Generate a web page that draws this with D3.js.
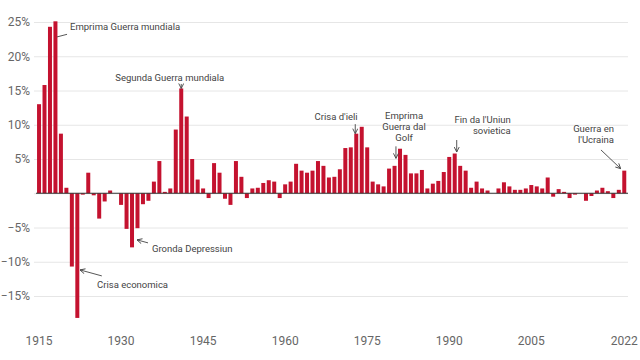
<!DOCTYPE html>
<html>
<head>
<meta charset="utf-8">
<script src="https://cdn.jsdelivr.net/npm/d3@7"></script>
<style>
  html, body { margin: 0; padding: 0; background: #fff; }
  #app { width: 640px; height: 360px; }
  .axis text { font-family: Roboto, "Noto Sans", sans-serif; font-size: 12px; fill: #666; }
  .note { font-family: Roboto, "Noto Sans", sans-serif; font-size: 9.5px; fill: #444; }
</style>
</head>
<body>
<div id="app"></div>
<script>
// annual inflation, 1915 - 2022 (%)
const firstYear = 1915;
const lastYear = 2022;
const inflation = [
  13.0, 15.8, 24.3, 25.1, 8.7,                           // 1915-1919
  0.8, -10.7, -18.2, -0.2, 3.0, -0.3, -3.7, -1.2, 0.4, 0.0, // 1920s
  -1.7, -5.2, -7.9, -5.1, -1.6, -1.1, 1.7, 4.7, 0.2, 0.7,  // 1930s
  9.3, 15.3, 11.2, 5.0, 2.0, 0.7, -0.7, 4.4, 3.0, -0.8,    // 1940s
  -1.7, 4.7, 2.4, -0.7, 0.7, 0.8, 1.5, 1.9, 1.7, -0.7,     // 1950s
  1.3, 1.7, 4.3, 3.3, 3.0, 3.3, 4.7, 4.0, 2.3, 2.4,        // 1960s
  3.5, 6.6, 6.7, 8.7, 9.7, 6.7, 1.7, 1.3, 1.0, 3.6,        // 1970s
  4.0, 6.5, 5.6, 2.9, 2.9, 3.4, 0.7, 1.4, 1.8, 3.1,        // 1980s
  5.3, 5.8, 4.0, 3.3, 0.8, 1.7, 0.7, 0.4, 0.0, 0.7,        // 1990s
  1.6, 1.0, 0.5, 0.5, 0.7, 1.2, 1.0, 0.7, 2.3, -0.5,       // 2000s
  0.6, 0.2, -0.7, -0.2, 0.0, -1.1, -0.4, 0.4, 0.8, 0.3,    // 2010s
  -0.7, 0.5, 3.3                                           // 2020-2022
];
const yearTicks = [1915, 1930, 1945, 1960, 1975, 1990, 2005, 2022];
const valueTicks = [-15, -10, -5, 0, 5, 10, 15, 20, 25];

const annotationTexts = [
  { year: 1918, lines: ["Emprima Guerra mundiala"] },
  { year: 1941, lines: ["Segunda Guerra mundiala"] },
  { year: 1932, lines: ["Gronda Depressiun"] },
  { year: 1922, lines: ["Crisa economica"] },
  { year: 1973, lines: ["Crisa d'ieli"] },
  { year: 1980, lines: ["Emprima", "Guerra dal", "Golf"] },
  { year: 1991, lines: ["Fin da l'Uniun", "sovietica"] },
  { year: 2022, lines: ["Guerra en", "l'Ucraina"] }
];

function plotChart() {
    const svgWidth = 640;
    const svgHeight = 360;
    const years = d3.range(firstYear, lastYear + 1);
    const data = years.map((year, i) => ({ year: year, value: inflation[i] }));

    const svg = d3.select("#app").append("svg")
        .attr("width", svgWidth)
        .attr("height", svgHeight);

    const x = d3.scaleBand()
        .domain(years)
        .range([36.3, 627])
        .paddingInner(0.27)
        .paddingOuter(0.135);
    const xc = d => x(d) + x.bandwidth() / 2;

    const y = d3.scaleLinear()
        .domain([-15, 25])
        .range([296, 22]);

    // grid + y labels
    const yAxis = svg.append("g")
        .attr("class", "axis")
        .attr("transform", "translate(34,0)")
        .call(d3.axisLeft(y)
            .tickValues(valueTicks)
            .tickSize(-594)
            .tickPadding(4)
            .tickFormat(d => d === 0 ? "" : (d < 0 ? "\u2212" + Math.abs(d) : d) + "%"));
    yAxis.select(".domain").remove();
    yAxis.selectAll(".tick line").attr("stroke", "#e6e6e6");

    // x labels
    const xAxis = svg.append("g")
        .attr("class", "axis")
        .attr("transform", "translate(0,330)")
        .call(d3.axisBottom(x).tickValues(yearTicks).tickSize(0).tickPadding(6));
    xAxis.select(".domain").remove();

    // bars
    svg.append("g").selectAll("rect")
        .data(data)
        .enter()
        .append("rect")
        .attr("x", d => x(d.year))
        .attr("width", x.bandwidth())
        .attr("y", d => y(Math.max(0, d.value)))
        .attr("height", d => Math.abs(y(d.value) - y(0)))
        .attr("fill", "#c4122f");

    // zero line
    svg.append("line")
        .attr("x1", 36).attr("x2", 628)
        .attr("y1", y(0)).attr("y2", y(0))
        .attr("stroke", "#333")
        .attr("stroke-width", 1);

    // annotations
    svg.append("defs").append("marker")
        .attr("id", "arrow")
        .attr("viewBox", "0 0 6 6")
        .attr("refX", 5.5).attr("refY", 3)
        .attr("markerWidth", 6).attr("markerHeight", 6)
        .attr("markerUnits", "userSpaceOnUse")
        .attr("orient", "auto")
        .append("path")
        .attr("d", "M0.5,0.5 L5.5,3 L0.5,5.5")
        .attr("fill", "none")
        .attr("stroke", "#444")
        .attr("stroke-width", 0.9);

    // text place and arrow ends, as pixel offsets from the bar end
    const layout = {
        1918: { tx: 14.6, ty: 9, anchor: "start", arrow: [1.6, 15.6, 11.6, 13], head: false },
        1941: { tx: -66, ty: -7.5, anchor: "start", arrow: [0, -4.5, 0, 0], head: true },
        1932: { tx: 20, ty: 5, anchor: "start", arrow: [16, -4.5, 5, -7.5], head: true, rev: true },
        1922: { tx: 19.7, ty: -30, anchor: "start", arrow: [24.5, -42, 2.7, -48], head: true, rev: true },
        1973: { tx: 1.4, ty: -13.7, anchor: "end", arrow: [-1, -9.5, -1, 0], head: true },
        1980: { tx: 9.5, ty: -47.3, anchor: "middle", arrow: [1.4, -19.5, 1.4, -7.5], head: true },
        1991: { tx: 56, ty: -31, anchor: "end", arrow: [2, -13.5, 2, -1.5], head: true },
        2022: { tx: -10.3, ty: -38.5, anchor: "end", arrow: [-23.3, -20.7, -3.6, -2], head: true }
    };

    annotationTexts.forEach(a => {
        const v = inflation[a.year - firstYear];
        const bx = xc(a.year);
        const by = y(v);
        const l = layout[a.year];

        const t = svg.append("text")
            .attr("class", "note")
            .attr("text-anchor", l.anchor)
            .attr("x", bx + l.tx)
            .attr("y", by + l.ty);
        a.lines.forEach((line, i) => {
            t.append("tspan")
                .attr("x", bx + l.tx)
                .attr("dy", i === 0 ? 0 : 11)
                .text(line);
        });

        const ar = svg.append("line")
            .attr("x1", bx + l.arrow[0]).attr("y1", by + l.arrow[1])
            .attr("x2", bx + l.arrow[2]).attr("y2", by + l.arrow[3])
            .attr("stroke", "#444")
            .attr("stroke-width", 0.9);
        if (l.head) ar.attr("marker-end", "url(#arrow)");
    });
}

plotChart();
</script>
</body>
</html>
